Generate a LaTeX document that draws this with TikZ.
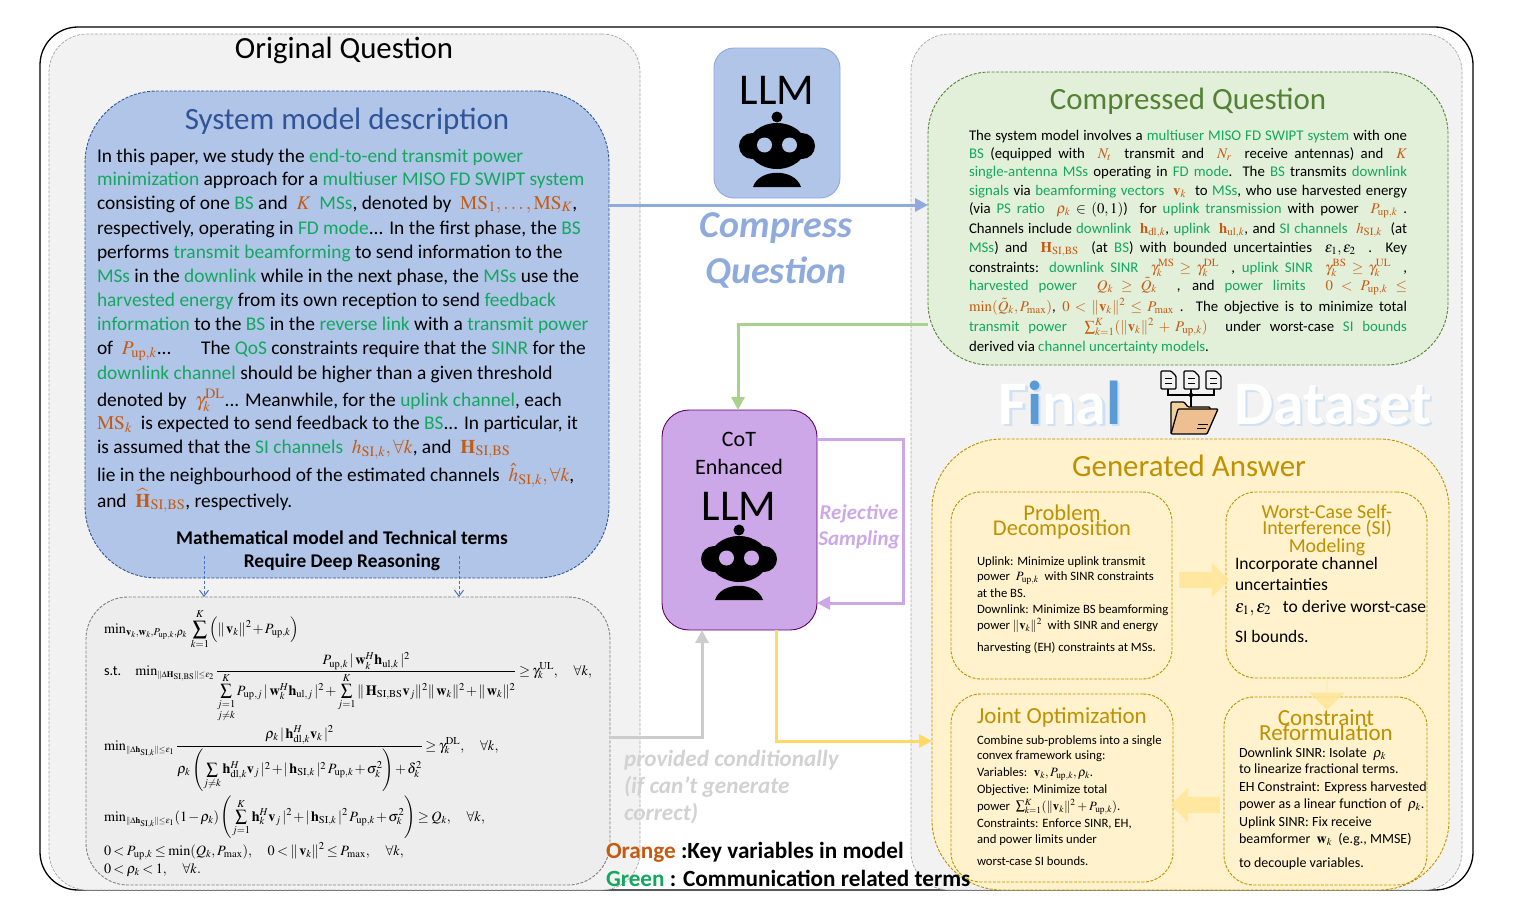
\documentclass[tikz,border=0pt]{standalone}
\usepackage{amsmath}
\usepackage{mathptmx}
\usepackage[no-math]{fontspec}
\setmainfont{Carlito}
\usetikzlibrary{arrows.meta,shapes.arrows}
\definecolor{termgreen}{HTML}{12A85E}
\definecolor{varorange}{HTML}{C55A11}
\definecolor{panelgray}{HTML}{F2F2F2}
\definecolor{llmblue}{HTML}{B1C5E8}
\definecolor{arrowblue}{HTML}{8FAADC}
\definecolor{arrowgreen}{HTML}{A9D18E}
\definecolor{arrowyellow}{HTML}{FFD966}
\definecolor{cotpurple}{HTML}{CDA8E8}
\definecolor{dashblue}{HTML}{4472C4}
\definecolor{titleblue}{HTML}{2F5597}
\definecolor{titlegreen}{HTML}{548235}
\definecolor{titlegold}{HTML}{BF9000}
\definecolor{cqfill}{HTML}{E2EFD9}
\definecolor{ansfill}{HTML}{FFF2CC}
\definecolor{blockfill}{HTML}{FFE699}
\definecolor{shadeblue}{HTML}{CFE1F3}
\definecolor{finalblue}{HTML}{5B9BD5}
\newcommand{\grn}[1]{\textcolor{termgreen}{#1}}
\newcommand{\org}[1]{\textcolor{varorange}{#1}}
\newcommand{\pup}{P_{\mathrm{up},k}}
\newcommand{\fsz}[1]{\fontsize{#1}{#1}\selectfont}
\newcommand{\tight}{\medmuskip=1.5mu\relax\thickmuskip=3mu\relax\displaystyle}
\newcommand{\bigsum}{\mathop{\vcenter{\hbox{\scalebox{0.8}{$\displaystyle\sum$}}}}\limits}
\tikzset{
  dashbox/.style={draw,rectangle,inner sep=0pt,outer sep=0pt,dash pattern=on 3pt off 1.5pt,line width=0.9pt},
  panel/.style={dashbox,draw=gray!70,fill=panelgray,rounded corners=38pt,line width=0.7pt},
  subbox/.style={dashbox,draw=titlegold,rounded corners=30pt},
  llmbox/.style={draw,rectangle,inner sep=0pt,outer sep=0pt,line width=0.9pt},
  txt/.style={anchor=base west,inner sep=0pt,outer sep=0pt},
  mid/.style={anchor=base,inner sep=0pt,outer sep=0pt},
  sysline/.style={txt,font=\fsz{19.4}},
  cqline/.style={txt,font=\fsz{14.8}},
  smallline/.style={txt,font=\fsz{12.7}},
  consline/.style={txt,font=\fsz{14}},
  worstline/.style={txt,font=\fsz{17.5}},
  mathline/.style={txt,font=\fsz{14.2}},
  subtitle/.style={mid,text=titlegold},
  flow/.style={line width=3pt,-{Triangle[length=13pt,width=13pt]}},
  dashflow/.style={dashblue,densely dashed,line width=1pt,-{Straight Barb[length=6pt,width=9pt]}},
  blockarrow/.style={single arrow,fill=blockfill,fill opacity=0.85,inner xsep=0pt,inner ysep=8pt,outer sep=0pt,
    single arrow head indent=0pt,single arrow tip angle=90,single arrow head extend=9pt},
  finalword/.style={mid,font=\fsz{62}\bfseries,text=white},
  finalshade/.style={mid,font=\fsz{62}\bfseries,text=shadeblue},
  pics/robot/.style={code={
    \fill[black] (0,-29) circle (5.5);
    \fill[black] (-25,0) circle (13);
    \fill[black] (25,0) circle (13);
    \fill[black] (0,0) ellipse (29 and 23);
    \fill[#1] (-12.5,-1) circle (7.5);
    \fill[#1] (12.5,-1) circle (7.5);
    \fill[black] (-24,41) .. controls (-18,22) and (18,22) .. (24,41) -- cycle;
  }},
}
\begin{document}
\begin{tikzpicture}[x=1pt,y=-1pt]
  \useasboundingbox (0,0) rectangle (1521,918);

  \node[draw,rectangle,rounded corners=38pt,line width=1.3pt,minimum width=1433pt,minimum height=863pt] (outer) at (756.5,458.5) {};
  \node[panel,minimum width=591pt,minimum height=856pt] (leftpanel) at (344.5,462) {};
  \node[panel,minimum width=551pt,minimum height=856pt] (rightpanel) at (1186.5,462) {};

  \node[dashbox,draw=titleblue,fill=llmblue,rounded corners=72pt,minimum width=524pt,minimum height=487pt] (sysbox) at (347,334.5) {};
  \node[dashbox,draw=gray,fill=panelgray!98!black,rounded corners=42pt,minimum width=524pt,minimum height=288pt] (mathbox) at (348,741) {};
  \node[dashbox,draw=titlegreen,fill=cqfill,rounded corners=62pt,minimum width=520pt,minimum height=293pt] (cqbox) at (1188,218.5) {};
  \node[dashbox,draw=titlegold,fill=ansfill,rounded corners=70pt,minimum width=517pt,minimum height=451pt] (ansbox) at (1190.5,664.5) {};
  \node[subbox,minimum width=221pt,minimum height=187pt] (probbox) at (1061.5,585.5) {};
  \node[subbox,minimum width=201pt,minimum height=186pt] (worstbox) at (1326.5,585) {};
  \node[subbox,minimum width=222pt,minimum height=188pt] (jointbox) at (1062,788) {};
  \node[subbox,minimum width=203pt,minimum height=188pt] (consbox) at (1325.5,791) {};
  \node[llmbox,draw=arrowblue,fill=llmblue,rounded corners=20pt,minimum width=126pt,minimum height=150pt] (llm1box) at (777,123) {};
  \node[llmbox,draw=violet!80!black,fill=cotpurple,rounded corners=27pt,minimum width=155pt,minimum height=220pt] (cotbox) at (739.5,520) {};

  \pic at (777,146) {robot={llmblue}};
  \pic at (739,559) {robot={cotpurple}};

  \coordinate (compress) at (700,205);
  \coordinate (greenturn) at (738,324);
  \coordinate (looptop) at (903,439);
  \coordinate (loopbot) at (903,603);
  \coordinate (grayturn) at (702,737);
  \coordinate (yellowturn) at (776,741);
  \coordinate (dashleft) at (204,556);
  \coordinate (dashright) at (459,556);
  \draw[flow,arrowblue] (sysbox.east |- compress) -- (cqbox.west |- compress);
  \draw[flow,arrowgreen] (cqbox.west |- greenturn) -- (greenturn) -- (cotbox.north -| greenturn);
  \draw[flow,cotpurple] (cotbox.east |- looptop) -- (looptop) -- (loopbot) -- (cotbox.east |- loopbot);
  \draw[flow,gray!40] (mathbox.east |- grayturn) -- (grayturn) -- (cotbox.south -| grayturn);
  \draw[flow,arrowyellow] (cotbox.south -| yellowturn) -- (yellowturn) -- (ansbox.west |- yellowturn);
  \draw[dashflow] (dashleft) -- (mathbox.north -| dashleft);
  \draw[dashflow] (dashright) -- (mathbox.north -| dashright);

  \node[blockarrow,minimum height=50pt,minimum width=34pt] (probworst) at (1200,580) {};
  \node[blockarrow,minimum height=32pt,minimum width=35pt,shape border rotate=270] (worstcons) at (1327,694) {};
  \node[blockarrow,minimum height=49pt,minimum width=33pt,shape border rotate=180] (consjoint) at (1199.5,805) {};

  \node[mid,font=\fsz{30.8}] (origtitle) at (344,58) {Original Question};
  \node[mid,font=\fsz{31},text=titleblue] (systitle) at (347,129) {System model description};
  \node[mid,font=\fsz{30.9},text=titlegreen] (cqtitle) at (1188,109) {Compressed Question};
  \node[mid,font=\fsz{30.9},text=titlegold] (anstitle) at (1189,476) {Generated Answer};

  \node[mid,font=\fsz{44}] (llm1) at (777,104) {LLM};
  \node[mid,font=\fsz{22}] (cot1) at (739,446) {CoT};
  \node[mid,font=\fsz{22}] (cot2) at (739,474) {Enhanced};
  \node[mid,font=\fsz{44}] (llm2) at (739,520) {LLM};
  \node[mid,font=\fsz{38}\bfseries\itshape,text=arrowblue] (comp1) at (776,237) {Compress};
  \node[mid,font=\fsz{38}\bfseries\itshape,text=arrowblue] (comp2) at (776,283) {Question};
  \node[mid,font=\fsz{21}\bfseries\itshape,text=cotpurple] (rej1) at (859,519) {Rejective};
  \node[mid,font=\fsz{21}\bfseries\itshape,text=cotpurple] (rej2) at (859,545) {Sampling};
  \node[txt,font=\fsz{23.2}\bfseries\itshape,text=gray!35] (prov1) at (624,766) {provided conditionally};
  \node[txt,font=\fsz{23.2}\bfseries\itshape,text=gray!35] (prov2) at (624,793) {(if can’t generate};
  \node[txt,font=\fsz{23.2}\bfseries\itshape,text=gray!35] (prov3) at (624,820) {correct)};
  \node[txt,font=\fsz{23.2}\bfseries] (orangekey) at (606,858) {\textcolor{varorange}{Orange} :Key variables in model};
  \node[txt,font=\fsz{23.2}\bfseries] (greenkey) at (606,886) {\textcolor{termgreen}{Green} : Communication related terms};

  \node[finalshade] (finalshadow) at (1062.5,426.5) {Final};
  \node[finalword] (final) at (1060,424) {F\textcolor{finalblue}{i}na\textcolor{finalblue}{l}};
  \node[finalshade] (datasetshadow) at (1335.5,426.5) {Dataset};
  \node[finalword] (dataset) at (1333,424) {Dataset};

  \foreach \docx in {1161,1184,1206} {
    \draw[black,line width=1.3pt,fill=panelgray,rounded corners=1pt] (\docx,371) -- (\docx+10,371) -- (\docx+15,376) -- (\docx+15,389) -- (\docx,389) -- cycle;
    \draw[black,line width=1pt] (\docx+4,378) -- (\docx+11,378) (\docx+4,383) -- (\docx+11,383);
  }
  \draw[black,line width=1.2pt] (1168,389) -- (1168,395) -- (1214,395) -- (1214,389) (1191,389) -- (1191,409);
  \fill[black] (1191,395) circle (2.2);
  \draw[black,line width=1.3pt,fill=orange!30!brown!30!ansfill,rounded corners=1pt] (1171,434) -- (1171,402) -- (1184,402) -- (1188,407) -- (1210,407) -- (1210,412) -- (1180,412) -- cycle;
  \draw[black,line width=1.3pt,fill=orange!45!brown!50!white,rounded corners=1pt] (1178,409) -- (1218,409) -- (1207,434) -- (1171,434) -- cycle;
  \draw[black,line width=1pt] (1198,424) -- (1208,424) (1197,428) -- (1206,428);

  \node[sysline] (sys1) at (97,162) {In this paper, we study the \grn{end-to-end transmit power}};
  \node[sysline] (sys2) at (97,185) {\grn{minimization} approach for a \grn{multiuser MISO FD SWIPT system}};
  \node[sysline] (sys3) at (97,209) {consisting of one \grn{BS} and \ \org{$K$} \ \grn{MSs}, denoted by \ \org{$\mathrm{MS}_1,\dots,\mathrm{MS}_K$},};
  \node[sysline] (sys4) at (97,234) {respectively, operating in \grn{FD mode}... In the first phase, the \grn{BS}};
  \node[sysline] (sys5) at (97,258) {performs \grn{transmit beamforming} to send information to the};
  \node[sysline] (sys6) at (97,282) {\grn{MSs} in the \grn{downlink} while in the next phase, the \grn{MSs} use the};
  \node[sysline] (sys7) at (97,306) {\grn{harvested energy} from its own reception to send \grn{feedback}};
  \node[sysline] (sys8) at (97,330) {\grn{information} to the \grn{BS} in the \grn{reverse link} with a \grn{transmit power}};
  \node[sysline] (sys9) at (97,354) {of \ \org{$\pup$}... \quad\ The \grn{QoS} constraints require that the \grn{SINR} for the};
  \node[sysline] (sys10) at (97,379) {\grn{downlink channel} should be higher than a given threshold};
  \node[sysline] (sys11) at (97,406) {denoted by \ \org{$\gamma_k^{\mathrm{DL}}$}... Meanwhile, for the \grn{uplink channel}, each};
  \node[sysline] (sys12) at (97,429) {\org{$\mathrm{MS}_k$} \ is expected to send feedback to the \grn{BS}... In particular, it};
  \node[sysline] (sys13) at (97,453) {is assumed that the \grn{SI channels} \ \org{$h_{\mathrm{SI},k},\forall k$}, and \ \org{$\mathbf{H}_{\mathrm{SI,BS}}$}};
  \node[sysline] (sys14) at (97,481) {lie in the neighbourhood of the estimated channels \ \org{$\hat{h}_{\mathrm{SI},k},\forall k$},};
  \node[sysline] (sys15) at (97,507) {and \ \org{$\widehat{\mathbf{H}}_{\mathrm{SI,BS}}$}, respectively.};
  \node[mid,font=\fsz{19.4}\bfseries] (deep1) at (342,544) {Mathematical model and Technical terms};
  \node[mid,font=\fsz{19.4}\bfseries] (deep2) at (342,567) {Require Deep Reasoning};

  \node[mathline] (eq1) at (104,633) {$\tight \min\nolimits_{\mathbf{v}_k,\mathbf{w}_k,P_{\mathrm{up},k},\rho_k}\,\sum_{k=1}^{K}\Bigl(\|\,\mathbf{v}_k\|^2+\pup\Bigr)$};
  \node[mathline] (eq2) at (104,675) {s.t.\quad $\tight \min\nolimits_{\scriptscriptstyle\|\Delta\mathbf{H}_{\mathrm{SI,BS}}\|\le\epsilon_2}\frac{\pup\,|\,\mathbf{w}_k^H\mathbf{h}_{\mathrm{ul},k}\,|^2}{\bigsum_{\substack{j=1\\ j\ne k}}^{K}P_{\mathrm{up},j}\,|\,\mathbf{w}_k^H\mathbf{h}_{\mathrm{ul},j}\,|^2+\bigsum_{j=1}^{K}\|\,\mathbf{H}_{\mathrm{SI,BS}}\mathbf{v}_j\|^2\|\,\mathbf{w}_k\|^2+\|\,\mathbf{w}_k\|^2}\ge\gamma_k^{\mathrm{UL}},\quad\forall k,$};
  \node[mathline] (eq3) at (104,750) {$\tight \min\nolimits_{\scriptscriptstyle\|\Delta\mathbf{h}_{\mathrm{SI},k}\|\le\epsilon_1}\frac{\rho_k\,|\,\mathbf{h}_{\mathrm{dl},k}^H\mathbf{v}_k\,|^2}{\rho_k\left(\bigsum_{j\ne k}\mathbf{h}_{\mathrm{dl},k}^H\mathbf{v}_j\,|^2+|\,\mathbf{h}_{\mathrm{SI},k}\,|^2\,\pup+\sigma_k^2\right)+\delta_k^2}\ge\gamma_k^{\mathrm{DL}},\quad\forall k,$};
  \node[mathline] (eq4) at (104,821) {$\tight \min\nolimits_{\scriptscriptstyle\|\Delta\mathbf{h}_{\mathrm{SI},k}\|\le\epsilon_1}(1-\rho_k)\left(\bigsum_{j=1}^{K}\mathbf{h}_k^H\mathbf{v}_j\,|^2+|\,\mathbf{h}_{\mathrm{SI},k}\,|^2\,\pup+\sigma_k^2\right)\ge Q_k,\quad\forall k,$};
  \node[mathline] (eq5) at (104,855) {$\tight 0<\pup\le\min(Q_k,P_{\max}),\quad 0<\|\,\mathbf{v}_k\|^2\le P_{\max},\quad\forall k,$};
  \node[mathline] (eq6) at (104,873) {$\tight 0<\rho_k<1,\quad\forall k.$};

  \node[cqline] (cq1) at (969,140) {\makebox[438pt][s]{The system model involves a \grn{multiuser MISO FD SWIPT system} with one}};
  \node[cqline] (cq2) at (969,158) {\makebox[438pt][s]{\grn{BS} (equipped with \ \org{$N_t$} \ transmit and \ \org{$N_r$} \ receive antennas) and \ \org{$K$}}};
  \node[cqline] (cq3) at (969,176) {\makebox[438pt][s]{\grn{single-antenna MSs} operating in \grn{FD mode}. The \grn{BS} transmits \grn{downlink}}};
  \node[cqline] (cq4) at (969,195) {\makebox[438pt][s]{\grn{signals} via \grn{beamforming vectors} \ \org{$\mathbf{v}_k$} \ to \grn{MSs}, who use harvested energy}};
  \node[cqline] (cq5) at (969,213) {\makebox[438pt][s]{(via \grn{PS ratio} \ \org{$\rho_k$} $\in(0,1)$) \ for \grn{uplink transmission} with power \ \org{$\pup$} .}};
  \node[cqline] (cq6) at (969,233) {\makebox[438pt][s]{Channels include \grn{downlink} \ \org{$\mathbf{h}_{\mathrm{dl},k}$}, \grn{uplink} \ \org{$\mathbf{h}_{\mathrm{ul},k}$}, and \grn{SI channels} \ \org{$h_{\mathrm{SI},k}$} \ (at}};
  \node[cqline] (cq7) at (969,252) {\makebox[438pt][s]{\grn{MSs}) and \ \org{$\mathbf{H}_{\mathrm{SI,BS}}$} \ (at \grn{BS}) with bounded uncertainties \ $\epsilon_1,\epsilon_2$ \ . Key}};
  \node[cqline] (cq8) at (969,272) {\makebox[438pt][s]{constraints: \grn{downlink SINR} \ \org{$\gamma_k^{\mathrm{MS}}\ge\gamma_k^{\mathrm{DL}}$} \ , \grn{uplink SINR} \ \org{$\gamma_k^{\mathrm{BS}}\ge\gamma_k^{\mathrm{UL}}$} \ ,}};
  \node[cqline] (cq9) at (969,290) {\makebox[438pt][s]{\grn{harvested power} \ \org{$Q_k\ge\tilde{Q}_k$} \ , and \grn{power limits} \ \org{$0<\pup\le$}}};
  \node[cqline] (cq10) at (969,311) {\makebox[438pt][s]{\org{$\min(\tilde{Q}_k,P_{\max})$}, \org{$0<\|\mathbf{v}_k\|^2\le P_{\max}$} . The objective is to minimize total}};
  \node[cqline] (cq11) at (969,331) {\makebox[438pt][s]{\grn{transmit power} \ \org{$\sum_{k=1}^{K}(\|\mathbf{v}_k\|^2+\pup)$} \ under worst-case \grn{SI bounds}}};
  \node[cqline] (cq12) at (969,351) {derived via \grn{channel uncertainty models}.};

  \node[subtitle,font=\fsz{22.5}] (prob1) at (1062,520) {Problem};
  \node[subtitle,font=\fsz{22.5}] (prob2) at (1062,535) {Decomposition};
  \node[smallline] (prob3) at (977,565) {Uplink: Minimize uplink transmit};
  \node[smallline] (prob4) at (977,580) {power \ $\pup$ \ with SINR constraints};
  \node[smallline] (prob5) at (977,597) {at the BS.};
  \node[smallline] (prob6) at (977,613) {Downlink: Minimize BS beamforming};
  \node[smallline] (prob7) at (977,629) {power $\|\mathbf{v}_k\|^2$ \ with SINR and energy};
  \node[smallline] (prob8) at (977,651) {harvesting (EH) constraints at MSs.};

  \node[subtitle,font=\fsz{19.8}] (worst1) at (1327,518) {Worst-Case Self-};
  \node[subtitle,font=\fsz{19.8}] (worst2) at (1327,534) {Interference (SI)};
  \node[subtitle,font=\fsz{19.8}] (worst3) at (1327,552) {Modeling};
  \node[worstline] (worst4) at (1235,569) {Incorporate channel};
  \node[worstline] (worst5) at (1235,590) {uncertainties};
  \node[worstline] (worst6) at (1235,612) {$\epsilon_1,\epsilon_2$ \ \ to derive worst-case};
  \node[worstline] (worst7) at (1235,642) {SI bounds.};

  \node[subtitle,font=\fsz{23}] (joint1) at (1062,723) {Joint Optimization};
  \node[smallline] (joint2) at (977,744) {Combine sub-problems into a single};
  \node[smallline] (joint3) at (977,759) {convex framework using:};
  \node[smallline] (joint4) at (977,776) {Variables: \ $\mathbf{v}_k,\pup,\rho_k$.};
  \node[smallline] (joint5) at (977,793) {Objective: Minimize total};
  \node[smallline] (joint6) at (977,810) {power \ $\sum_{k=1}^{K}(\|\mathbf{v}_k\|^2+\pup)$.};
  \node[smallline] (joint7) at (977,827) {Constraints: Enforce SINR, EH,};
  \node[smallline] (joint8) at (977,843) {and power limits under};
  \node[smallline] (joint9) at (977,865) {worst-case SI bounds.};

  \node[subtitle,font=\fsz{23}] (cons1) at (1326,725) {Constraint};
  \node[subtitle,font=\fsz{23}] (cons2) at (1326,740) {Reformulation};
  \node[consline] (cons3) at (1239,757) {Downlink SINR: Isolate \ $\rho_k$};
  \node[consline] (cons4) at (1239,773) {to linearize fractional terms.};
  \node[consline] (cons5) at (1239,791) {EH Constraint: Express harvested};
  \node[consline] (cons6) at (1239,808) {power as a linear function of \ $\rho_k$.};
  \node[consline] (cons7) at (1239,826) {Uplink SINR: Fix receive};
  \node[consline] (cons8) at (1239,843) {beamformer \ $\mathbf{w}_k$ \ (e.g., MMSE)};
  \node[consline] (cons9) at (1239,867) {to decouple variables.};
\end{tikzpicture}
\end{document}
